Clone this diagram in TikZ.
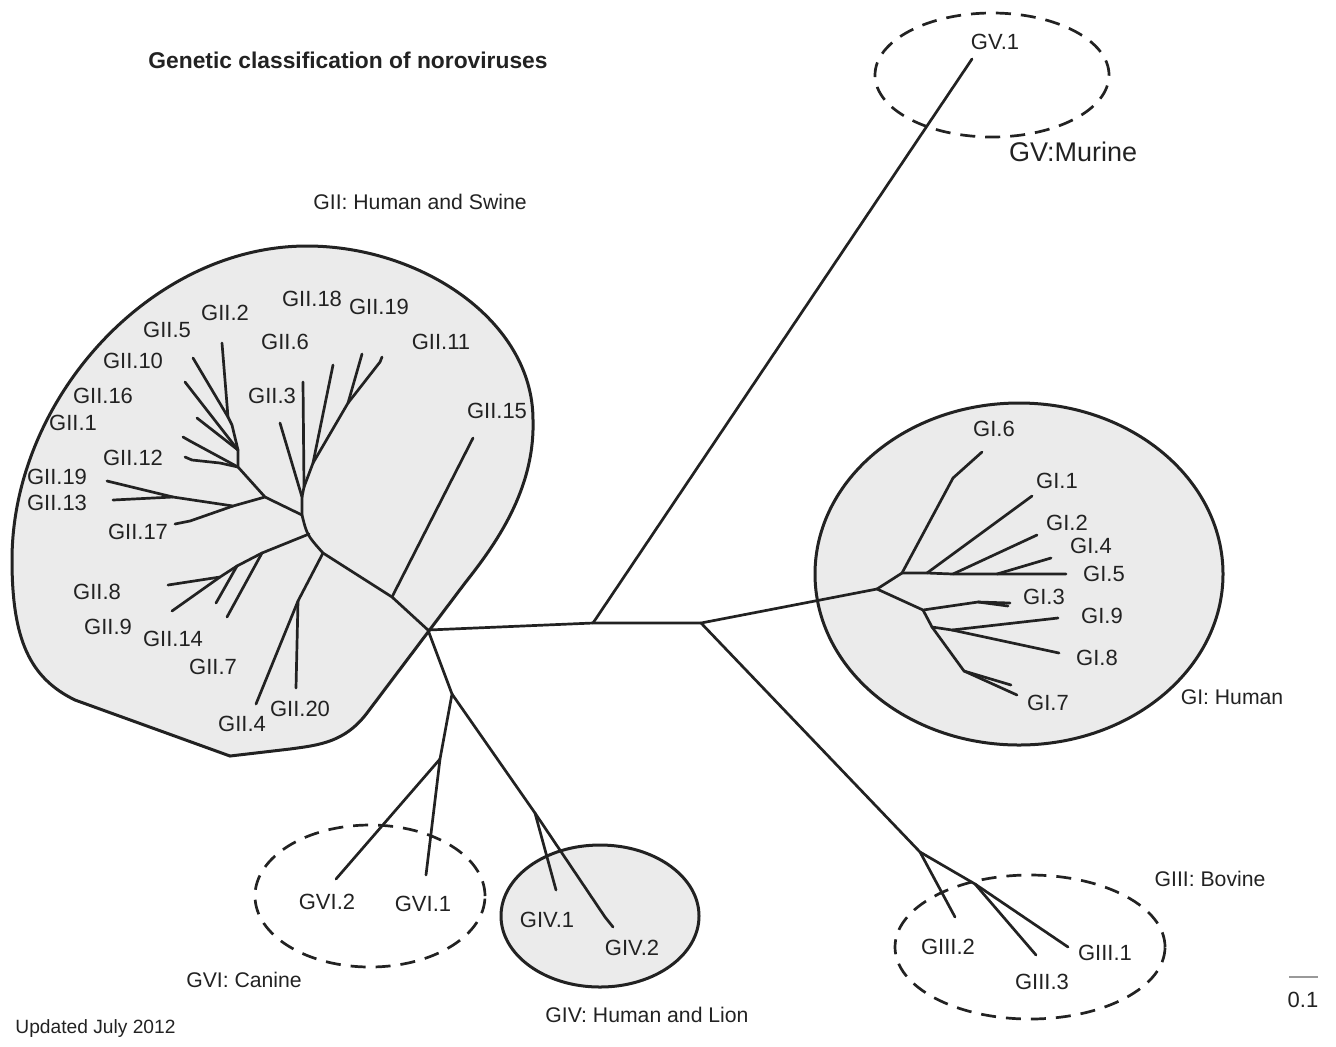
\documentclass[tikz,border=0pt]{standalone}
\usepackage{fontspec}
\usetikzlibrary{calc}
\setmainfont{Liberation Sans}
\definecolor{ink}{HTML}{222222}
\definecolor{grpfill}{HTML}{EBEBEB}
\definecolor{barcol}{HTML}{999999}
\begin{document}
\begin{tikzpicture}[x=0.5pt,y=-0.5pt,
  br/.style={draw=ink,line width=1.35pt,line cap=round,line join=round},
  grp/.style={draw=ink,line width=1.5pt,fill=grpfill},
  dgrp/.style={draw=ink,line width=1.35pt,dash pattern=on 7.5pt off 5pt},
  lab/.style={font=\fontsize{10.6}{12}\selectfont,text=ink,inner sep=0pt},
  tip/.style={font=\fontsize{11}{13}\selectfont,text=ink,inner sep=0pt},
  small/.style={font=\fontsize{9.6}{11}\selectfont,text=ink,inner sep=0pt}]
\useasboundingbox (0,0) rectangle (1336,1046);

% ---------- group outlines ----------
\draw[grp] (230,756) -- (75,700) .. controls (30,678) and (12,640) .. (12,560)
  .. controls (12,400) and (150,246) .. (307,246)
  .. controls (420,246) and (533,320) .. (533,420)
  .. controls (535,490) and (495,545) .. (465,583)
  -- (367,713) .. controls (345,742) and (320,745) .. (290,749) -- cycle;
\draw[grp] (1019,574) ellipse [x radius=102pt, y radius=85.5pt];
\draw[grp] (600,916) ellipse [x radius=49.5pt, y radius=35.5pt];
\draw[dgrp] (992,75) ellipse [x radius=58.5pt, y radius=31pt];
\draw[dgrp] (1030,947) ellipse [x radius=67.5pt, y radius=36pt];
\draw[dgrp] (370,896) ellipse [x radius=57.5pt, y radius=35.5pt];

% ---------- coordinates ----------
\coordinate (C1) at (428,630);
\coordinate (V) at (593,623);
\coordinate (R) at (701,623);
\coordinate (GV1t) at (972,59);
% GI
\coordinate (GIa) at (877,589);
\coordinate (GIb) at (902,573);
\coordinate (GId) at (923,610);
\coordinate (GI6k) at (953,478);
\coordinate (GI6t) at (982,452);
\coordinate (GIh1) at (927,573);
\coordinate (GIh2) at (953,574);
\coordinate (GIh3) at (997,574);
\coordinate (GI5t) at (1066,574);
\coordinate (GI1t) at (1032,496);
\coordinate (GI2t) at (1037,535);
\coordinate (GI4t) at (1051,558);
\coordinate (GI3k) at (978,602);
\coordinate (GI3t) at (1010,603);
\coordinate (GI3u) at (1008,606);
\coordinate (GIe) at (932,627);
\coordinate (GIf) at (952,630);
\coordinate (GI9t) at (1058,618);
\coordinate (GI8t) at (1059,653);
\coordinate (GIg) at (964,671);
\coordinate (GI7at) at (1011,685);
\coordinate (GI7bt) at (1017,695);
% GIII
\coordinate (G3a) at (920,852);
\coordinate (G3b) at (975,884);
\coordinate (G32t) at (955,917);
\coordinate (G33t) at (1036,955);
\coordinate (G31t) at (1068,947);
% GVI / GIV
\coordinate (D1) at (452,694);
\coordinate (G6j) at (440,759);
\coordinate (G61t) at (426,875);
\coordinate (G62t) at (336,879);
\coordinate (G4j) at (535,813);
\coordinate (G41t) at (556,890);
\coordinate (G4k) at (605,917);
\coordinate (G42t) at (613,927);
% GII
\coordinate (G2m) at (392,597);
\coordinate (GII15t) at (473,438);
\coordinate (N1) at (323,553);
\coordinate (N2) at (309,534);
\coordinate (N3) at (302,515);
\coordinate (N4) at (298,601);
\coordinate (GII4t) at (256,704);
\coordinate (GII20t) at (296,688);
\coordinate (N5) at (262,553);
\coordinate (GII7t) at (227,617);
\coordinate (N6) at (237,566);
\coordinate (GII14t) at (216,603);
\coordinate (N7) at (220,577);
\coordinate (GII8t) at (168,585);
\coordinate (GII9t) at (172,611);
\coordinate (N8) at (302,497);
\coordinate (GII3t) at (280,423);
\coordinate (N9) at (304,487);
\coordinate (GII6t) at (303,382);
\coordinate (N10) at (313,463);
\coordinate (GII18t) at (333,365);
\coordinate (N11) at (348,403);
\coordinate (GII19t) at (362,354);
\coordinate (GII11t) at (380,362);
\coordinate (GII11h) at (382,357);
\coordinate (N12) at (265,497);
\coordinate (N13) at (233,506);
\coordinate (J1) at (173,497);
\coordinate (GII19Lt) at (107,481);
\coordinate (GII13t) at (113,500);
\coordinate (GII17k) at (190,521);
\coordinate (GII17t) at (175,524);
\coordinate (N14) at (238,467);
\coordinate (GII1k) at (190,441);
\coordinate (GII1t) at (183,437);
\coordinate (GII12a) at (220,463);
\coordinate (GII12k) at (192,460);
\coordinate (GII12t) at (185,457);
\coordinate (N15) at (238,450);
\coordinate (GII10t) at (185,382);
\coordinate (GII16t) at (197,418);
\coordinate (N16) at (232,425);
\coordinate (N17) at (228,417);
\coordinate (GII2t) at (222,343);
\coordinate (GII5t) at (193,358);

% ---------- branches ----------
\draw[br] (C1) -- (V) -- (R);
\draw[br] (V) -- (GV1t);
\draw[br] (R) -- (GIa);
\draw[br] (GIa) -- (GIb) -- (GI6k) -- (GI6t);
\draw[br] (GIb) -- (GIh1) -- (GIh2) -- (GIh3) -- (GI5t);
\draw[br] (GIh1) -- (GI1t);
\draw[br] (GIh2) -- (GI2t);
\draw[br] (GIh3) -- (GI4t);
\draw[br] (GIa) -- (GId) -- (GI3k) -- (GI3t);
\draw[br] (GI3k) -- (GI3u);
\draw[br] (GId) -- (GIe) -- (GIf) -- (GI9t);
\draw[br] (GIf) -- (GI8t);
\draw[br] (GIe) -- (GIg) -- (GI7at);
\draw[br] (GIg) -- (GI7bt);
\draw[br] (R) -- (G3a) -- (G3b) -- (G31t);
\draw[br] (G3a) -- (G32t);
\draw[br] (G3b) -- (G33t);
\draw[br] (C1) -- (D1) -- (G6j) -- (G61t);
\draw[br] (G6j) -- (G62t);
\draw[br] (D1) -- (G4j) -- (G4k) -- (G42t);
\draw[br] (G4j) -- (G41t);
% GII
\draw[br] (C1) -- (G2m) -- (N1);
\draw[br] (G2m) -- (GII15t);
\draw[br] (N1) .. controls (307,535) .. (N3);
\draw[br] (N1) -- (N4) -- (GII4t);
\draw[br] (N4) -- (GII20t);
\draw[br] (N2) -- (N5) -- (GII7t);
\draw[br] (N5) -- (N6) -- (GII14t);
\draw[br] (N6) -- (N7) -- (GII8t);
\draw[br] (N7) -- (GII9t);
\draw[br] (N3) -- (N8) -- (GII3t);
\draw[br] (N8) -- (N9) -- (GII6t);
\draw[br] (N9) -- (N10) -- (GII18t);
\draw[br] (N10) -- (N11) -- (GII19t);
\draw[br] (N11) -- (GII11t) -- (GII11h);
\draw[br] (N3) -- (N12) -- (N13) -- (J1) -- (GII19Lt);
\draw[br] (J1) -- (GII13t);
\draw[br] (N13) -- (GII17k) -- (GII17t);
\draw[br] (N12) -- (N14) -- (N15) -- (N16) -- (N17) -- (GII2t);
\draw[br] (N17) -- (GII5t);
\draw[br] (N14) -- (GII1k) -- (GII1t);
\draw[br] (N14) -- (GII12a) -- (GII12k) -- (GII12t);
\draw[br] (N15) -- (GII10t);
\draw[br] (N15) -- (GII16t);

% ---------- labels ----------
\node[font=\bfseries\fontsize{11.4}{13}\selectfont,text=ink,inner sep=0pt] (title) at (348,60) {Genetic classification of noroviruses};
\node[small,anchor=west] (upd) at (15,1029) {Updated July 2012};
\node[lab] (lGII) at (420,202) {GII: Human and Swine};
\node[font=\fontsize{13.5}{16}\selectfont,text=ink,inner sep=0pt] (lGV) at (1073,152) {GV:Murine};
\node[lab] (lGI) at (1232,697) {GI: Human};
\node[lab] (lGIII) at (1210,879) {GIII: Bovine};
\node[lab] (lGVI) at (244,980) {GVI: Canine};
\node[lab] (lGIV) at (647,1015) {GIV: Human and Lion};

\node[tip] (tGV1) at (995,42) {GV.1};
\node[tip] (tGI6) at (994,429) {GI.6};
\node[tip] (tGI1) at (1057,481) {GI.1};
\node[tip] (tGI2) at (1067,523) {GI.2};
\node[tip] (tGI4) at (1091,546) {GI.4};
\node[tip] (tGI5) at (1104,574) {GI.5};
\node[tip] (tGI3) at (1044,597) {GI.3};
\node[tip] (tGI9) at (1102,616) {GI.9};
\node[tip] (tGI8) at (1097,658) {GI.8};
\node[tip] (tGI7) at (1048,703) {GI.7};
\node[tip] (tG32) at (948,947) {GIII.2};
\node[tip] (tG33) at (1042,982) {GIII.3};
\node[tip] (tG31) at (1105,953) {GIII.1};
\node[tip] (tG62) at (327,902) {GVI.2};
\node[tip] (tG61) at (423,904) {GVI.1};
\node[tip] (tG41) at (547,920) {GIV.1};
\node[tip] (tG42) at (632,948) {GIV.2};

\node[tip] (tGII2) at (225,313) {GII.2};
\node[tip] (tGII5) at (167,330) {GII.5};
\node[tip] (tGII10) at (133,361) {GII.10};
\node[tip] (tGII16) at (103,396) {GII.16};
\node[tip] (tGII1) at (73,423) {GII.1};
\node[tip] (tGII12) at (133,458) {GII.12};
\node[tip] (tGII19L) at (57,477) {GII.19};
\node[tip] (tGII13) at (57,503) {GII.13};
\node[tip] (tGII17) at (138,532) {GII.17};
\node[tip] (tGII18) at (312,299) {GII.18};
\node[tip] (tGII19) at (379,307) {GII.19};
\node[tip] (tGII6) at (285,342) {GII.6};
\node[tip] (tGII3) at (272,396) {GII.3};
\node[tip] (tGII11) at (441,342) {GII.11};
\node[tip] (tGII15) at (497,411) {GII.15};
\node[tip] (tGII8) at (97,592) {GII.8};
\node[tip] (tGII9) at (108,627) {GII.9};
\node[tip] (tGII14) at (173,639) {GII.14};
\node[tip] (tGII7) at (213,667) {GII.7};
\node[tip] (tGII4) at (242,724) {GII.4};
\node[tip] (tGII20) at (300,709) {GII.20};

% scale bar
\coordinate (sb1) at (1289,977);
\coordinate (sb2) at (1318,977);
\draw[barcol,line width=1pt] (sb1) -- (sb2);
\node[tip] (tsb) at (1303,1000) {0.1};
\end{tikzpicture}
\end{document}
